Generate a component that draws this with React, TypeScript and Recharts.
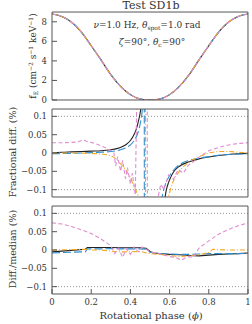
import { LineChart, Line, XAxis, YAxis, ReferenceLine } from 'recharts';

// phase ticks
const xMajor = [0, 0.2, 0.4, 0.6, 0.8, 1];
const xLabels = ['0', '0.2', '0.4', '0.6', '0.8', '1'];
const fMajor = [0, 2, 4, 6, 8];
const dMajor = [-0.1, -0.05, 0, 0.05, 0.1];

// top panel: pulse profile f_E (all four codes overlap)
const fPhase = [0, 0.05, 0.1, 0.15, 0.2, 0.25, 0.3, 0.35, 0.4, 0.45, 0.5, 0.55, 0.6, 0.65, 0.7, 0.75, 0.8, 0.85, 0.9, 0.95, 1];
const fE = [8.8, 8.55, 7.95, 6.95, 5.55, 4.1, 2.6, 1.4, 0.55, 0.1, 0.0, 0.1, 0.55, 1.4, 2.6, 4.1, 5.55, 6.95, 7.95, 8.55, 8.8];

// middle panel: fractional difference (%)
const fracBlackPhase = [0, 0.05, 0.1, 0.15, 0.2, 0.25, 0.3, 0.33, 0.36, 0.38, 0.4, 0.42, 0.43, 0.44, 0.45, 0.46, 0.47, 0.5, 0.56, 0.57, 0.58, 0.59, 0.6, 0.62, 0.65, 0.7, 0.75, 0.8, 0.85, 0.9, 0.95, 1];
const fracBlack = [0.0, 0.002, 0.003, 0.004, 0.005, 0.006, 0.009, 0.012, 0.018, 0.024, 0.034, 0.052, 0.065, 0.085, 0.11, 0.16, 0.3, null, -0.3, -0.16, -0.11, -0.088, -0.073, -0.052, -0.036, -0.024, -0.016, -0.011, -0.007, -0.004, -0.002, -0.001];

const fracBluePhase = [0, 0.1, 0.2, 0.25, 0.3, 0.35, 0.38, 0.4, 0.42, 0.44, 0.45, 0.46, 0.466, 0.47, 0.472, 0.55, 0.552, 0.56, 0.57, 0.58, 0.6, 0.62, 0.65, 0.7, 0.75, 0.8, 0.85, 0.9, 0.95, 1];
const fracBlue = [-0.002, -0.001, 0.001, 0.002, 0.004, 0.009, 0.015, 0.022, 0.035, 0.058, 0.08, 0.115, 0.2, 1, -1, -1, -0.2, -0.13, -0.1, -0.083, -0.062, -0.047, -0.032, -0.02, -0.014, -0.01, -0.006, -0.004, -0.003, -0.002];

const fracOrangePhase = [0, 0.1, 0.2, 0.25, 0.3, 0.33, 0.35, 0.37, 0.39, 0.4, 0.41, 0.42, 0.43, 0.44, 0.45, 0.46, 0.476, 0.478, 0.49, 0.53, 0.585, 0.595, 0.6, 0.62, 0.65, 0.68, 0.7, 0.72, 0.75, 0.78, 0.8, 0.83, 0.86, 0.9, 0.95, 1];
const fracOrange = [0.0, 0.0, -0.001, -0.003, -0.008, -0.018, -0.03, -0.042, -0.058, -0.068, -0.08, -0.092, -0.105, -0.12, -0.16, -0.3, -1, 1, 1, null, -0.3, -0.12, -0.108, -0.075, -0.05, -0.033, -0.025, -0.018, -0.01, -0.004, 0.0, 0.003, 0.004, 0.004, 0.002, 0.0];

const fracPinkPhase = [0, 0.05, 0.1, 0.13, 0.16, 0.18, 0.2, 0.24, 0.27, 0.3, 0.315, 0.325, 0.335, 0.35, 0.36, 0.375, 0.385, 0.4, 0.41, 0.425, 0.432, 0.44, 0.484, 0.488, 0.535, 0.542, 0.555, 0.571, 0.594, 0.619, 0.644, 0.67, 0.696, 0.73, 0.764, 0.8, 0.85, 0.9, 0.95, 1];
const fracPink = [0.028, 0.028, 0.029, 0.03, 0.036, 0.031, 0.029, 0.022, 0.015, 0.007, 0.002, -0.035, -0.01, -0.05, -0.02, -0.07, -0.04, -0.085, -0.055, -0.115, 0.13, 1, 1, -1, -1, -0.118, -0.085, -0.1, -0.06, -0.072, -0.045, -0.055, -0.033, -0.02, -0.006, 0.006, 0.015, 0.022, 0.026, 0.028];

// bottom panel: difference from median (%)
const medPhase = [0, 0.1, 0.17, 0.18, 0.25, 0.3, 0.35, 0.4, 0.45, 0.48, 0.5, 0.52, 0.55, 0.6, 0.65, 0.7, 0.75, 0.8, 0.85, 0.9, 0.95, 1];
const medBlack = [-0.005, -0.001, 0.002, 0.007, 0.007, 0.007, 0.006, 0.006, 0.006, 0.005, -0.004, -0.008, -0.01, -0.012, -0.013, -0.015, -0.016, -0.014, -0.012, -0.011, -0.01, -0.008];
const medBlue = [-0.008, -0.006, -0.005, 0.003, 0.003, 0.004, 0.003, 0.003, 0.003, 0.002, -0.006, -0.008, -0.01, -0.011, -0.012, -0.012, -0.011, -0.01, -0.01, -0.01, -0.01, -0.009];

const medOrangePhase = [0, 0.1, 0.17, 0.2, 0.25, 0.3, 0.35, 0.4, 0.45, 0.5, 0.55, 0.6, 0.65, 0.7, 0.75, 0.8, 0.82, 0.85, 0.9, 0.95, 1];
const medOrange = [0.0, 0.001, 0.002, 0.0, 0.0, -0.003, -0.005, -0.005, -0.004, -0.01, -0.012, -0.015, -0.018, -0.016, -0.013, -0.007, 0.002, 0.001, 0.0, 0.0, 0.0];

const medPinkPhase = [0, 0.05, 0.1, 0.15, 0.2, 0.25, 0.3, 0.32, 0.34, 0.36, 0.38, 0.4, 0.42, 0.44, 0.46, 0.48, 0.5, 0.55, 0.6, 0.63, 0.66, 0.69, 0.72, 0.75, 0.8, 0.85, 0.9, 0.95, 1];
const medPink = [0.074, 0.071, 0.064, 0.055, 0.045, 0.03, 0.012, -0.01, 0.005, -0.02, 0.003, -0.012, 0.008, -0.005, 0.008, 0.002, -0.005, -0.01, -0.018, -0.02, -0.028, -0.018, -0.02, 0.005, 0.025, 0.043, 0.056, 0.066, 0.074];

const AXIS = '#555';
const FONT = 'DejaVu Serif';
const BLACK = '#222';
const BLUE = '#2f8fd0';
const ORANGE = '#f5a623';
const PINK = '#e08ccf';

const W = 252;
const M = { left: 52, right: 4 };
const THIN = 0.01; // axes take (almost) no room; the margins place the plot box

function range(a: number, b: number, step: number) {
  const out: number[] = [];
  for (let i = 0; a + i * step <= b + 1e-9; i++) out.push(+(a + i * step).toFixed(4));
  return out;
}
const xMinor = range(0, 1, 0.05);

const pts = (ph: number[], v: (number | null)[]) => ph.map((p, i) => ({ p, v: v[i] }));

const fmtD = (v: number) => (v === 0 ? '0' : (v < 0 ? '\u2212' : '') + String(Math.abs(v)));

// box with inward ticks on all four sides
function frame(yDomain: [number, number], yMajor: number[], yMinor: number[], yFmt: (v: number) => string, xLab: boolean) {
  const common = { stroke: AXIS, allowDataOverflow: true } as const;
  const tl = { stroke: AXIS };
  const lab = { fontSize: 8.5, fill: '#333', fontFamily: FONT };
  return [
    <XAxis key="bm" xAxisId="bm" type="number" dataKey="p" domain={[0, 1]} ticks={xMinor} interval={0} height={THIN} tickSize={-2.5} tick={false} tickLine={tl} axisLine={false} {...common} />,
    <XAxis key="tm" xAxisId="tm" orientation="top" type="number" dataKey="p" domain={[0, 1]} ticks={xMinor} interval={0} height={THIN} tickSize={-2.5} tick={false} tickLine={tl} axisLine={false} {...common} />,
    <XAxis key="tM" xAxisId="tM" orientation="top" type="number" dataKey="p" domain={[0, 1]} ticks={xMajor} interval={0} height={THIN} tickSize={-5} tick={false} tickLine={tl} axisLine={tl} {...common} />,
    <XAxis
      key="x"
      xAxisId="x"
      type="number"
      dataKey="p"
      domain={[0, 1]}
      ticks={xMajor}
      interval={0}
      height={THIN}
      tickSize={-5}
      tickMargin={10}
      tick={xLab ? lab : false}
      tickFormatter={(v: number) => xLabels[xMajor.indexOf(v)] ?? String(v)}
      tickLine={tl}
      axisLine={tl}
      {...common}
    />,
    <YAxis key="lm" yAxisId="lm" type="number" domain={yDomain} ticks={yMinor} interval={0} width={THIN} tickSize={-2.5} tick={false} tickLine={tl} axisLine={false} {...common} />,
    <YAxis key="rm" yAxisId="rm" orientation="right" type="number" domain={yDomain} ticks={yMinor} interval={0} width={THIN} tickSize={-2.5} tick={false} tickLine={tl} axisLine={false} {...common} />,
    <YAxis key="rM" yAxisId="rM" orientation="right" type="number" domain={yDomain} ticks={yMajor} interval={0} width={THIN} tickSize={-5} tick={false} tickLine={tl} axisLine={tl} {...common} />,
    <YAxis
      key="y"
      yAxisId="y"
      type="number"
      domain={yDomain}
      ticks={yMajor}
      interval={0}
      width={THIN}
      tickSize={-5}
      tickMargin={10}
      tick={lab}
      tickFormatter={yFmt}
      tickLine={tl}
      axisLine={tl}
      {...common}
    />,
  ];
}

function series(items: { d: { p: number; v: number | null }[]; color: string; dash?: string; type?: 'monotone' | 'linear' }[]) {
  return items.map((s, i) => (
    <Line
      key={i}
      xAxisId="x"
      yAxisId="y"
      data={s.d}
      dataKey="v"
      type={s.type ?? 'monotone'}
      stroke={s.color}
      strokeWidth={1.1}
      strokeDasharray={s.dash}
      dot={false}
      activeDot={false}
      connectNulls={false}
      isAnimationActive={false}
    />
  ));
}

const DASH_BLUE = '8 3';
const DASH_ORANGE = '5 2 1 2';
const DASH_PINK = '4 2.5';

export default function App() {
  const dotted = { stroke: '#777', strokeDasharray: '1 2', strokeWidth: 0.8 };
  return (
    <div style={{ position: 'absolute', left: 0, top: 0, width: W, height: 324, background: '#fff' }}>
      <div style={{ position: 'absolute', left: 0, top: 0 }}>
        <LineChart width={W} height={104} margin={{ ...M, top: 12, bottom: 4 }}>
          {frame([0, 9], fMajor, range(0, 9, 0.5), (v) => String(v), false)}
          {series([
            { d: pts(fPhase, fE), color: BLACK },
            { d: pts(fPhase, fE), color: BLUE, dash: DASH_BLUE },
            { d: pts(fPhase, fE), color: ORANGE, dash: DASH_ORANGE },
            { d: pts(fPhase, fE), color: PINK, dash: DASH_PINK },
          ])}
        </LineChart>
      </div>
      <div style={{ position: 'absolute', left: 0, top: 104 }}>
        <LineChart width={W} height={96} margin={{ ...M, top: 5, bottom: 3 }}>
          {frame([-0.12, 0.12], dMajor, range(-0.12, 0.12, 0.01), fmtD, false)}
          <ReferenceLine xAxisId="x" yAxisId="y" y={0.1} {...dotted} />
          <ReferenceLine xAxisId="x" yAxisId="y" y={-0.1} {...dotted} />
          {series([
            { d: pts(fracBlackPhase, fracBlack), color: BLACK },
            { d: pts(fracBluePhase, fracBlue), color: BLUE, dash: DASH_BLUE },
            { d: pts(fracOrangePhase, fracOrange), color: ORANGE, dash: DASH_ORANGE },
            { d: pts(fracPinkPhase, fracPink), color: PINK, dash: DASH_PINK, type: 'linear' },
          ])}
        </LineChart>
      </div>
      <div style={{ position: 'absolute', left: 0, top: 200 }}>
        <LineChart width={W} height={124} margin={{ ...M, top: 6, bottom: 30 }}>
          {frame([-0.12, 0.12], dMajor, range(-0.12, 0.12, 0.01), fmtD, true)}
          <ReferenceLine xAxisId="x" yAxisId="y" y={0.1} {...dotted} />
          <ReferenceLine xAxisId="x" yAxisId="y" y={-0.1} {...dotted} />
          {series([
            { d: pts(medPhase, medBlack), color: BLACK, type: 'linear' },
            { d: pts(medPhase, medBlue), color: BLUE, dash: DASH_BLUE, type: 'linear' },
            { d: pts(medOrangePhase, medOrange), color: ORANGE, dash: DASH_ORANGE, type: 'linear' },
            { d: pts(medPinkPhase, medPink), color: PINK, dash: DASH_PINK, type: 'linear' },
          ])}
        </LineChart>
      </div>
      <svg width={W} height={324} style={{ position: 'absolute', left: 0, top: 0, pointerEvents: 'none' }} fontFamily={FONT} fill="#333">
        <text x={151} y={9} fontSize={11} textAnchor="middle">Test SD1b</text>
        <text x={147} y={28} fontSize={9} textAnchor="middle">
          <tspan fontStyle="italic">ν</tspan>=1.0 Hz, <tspan fontStyle="italic">θ</tspan>
          <tspan fontSize={6} dy={2}>spot</tspan>
          <tspan dy={-2}>=1.0 rad</tspan>
        </text>
        <text x={152} y={45} fontSize={9} textAnchor="middle">
          <tspan fontStyle="italic">ζ</tspan>=90°, <tspan fontStyle="italic">θ</tspan>
          <tspan fontSize={6} dy={2}>c</tspan>
          <tspan dy={-2}>=90°</tspan>
        </text>
        <text transform="translate(36,56) rotate(-90)" fontSize={9} textAnchor="middle">
          f<tspan fontSize={6} dy={2}>E</tspan>
          <tspan dy={-2}> (cm</tspan>
          <tspan fontSize={6} dy={-3.5}>−2</tspan>
          <tspan dy={3.5}> s</tspan>
          <tspan fontSize={6} dy={-3.5}>−1</tspan>
          <tspan dy={3.5}> keV</tspan>
          <tspan fontSize={6} dy={-3.5}>−1</tspan>
          <tspan dy={3.5}>)</tspan>
        </text>
        <text transform="translate(16,152) rotate(-90)" fontSize={9.5} textAnchor="middle">Fractional diff. (%)</text>
        <text transform="translate(16,249) rotate(-90)" fontSize={9.5} textAnchor="middle">Diff./median (%)</text>
        <text x={151} y={319} fontSize={10} textAnchor="middle">
          Rotational phase (<tspan fontStyle="italic">ϕ</tspan>)
        </text>
      </svg>
    </div>
  );
}
